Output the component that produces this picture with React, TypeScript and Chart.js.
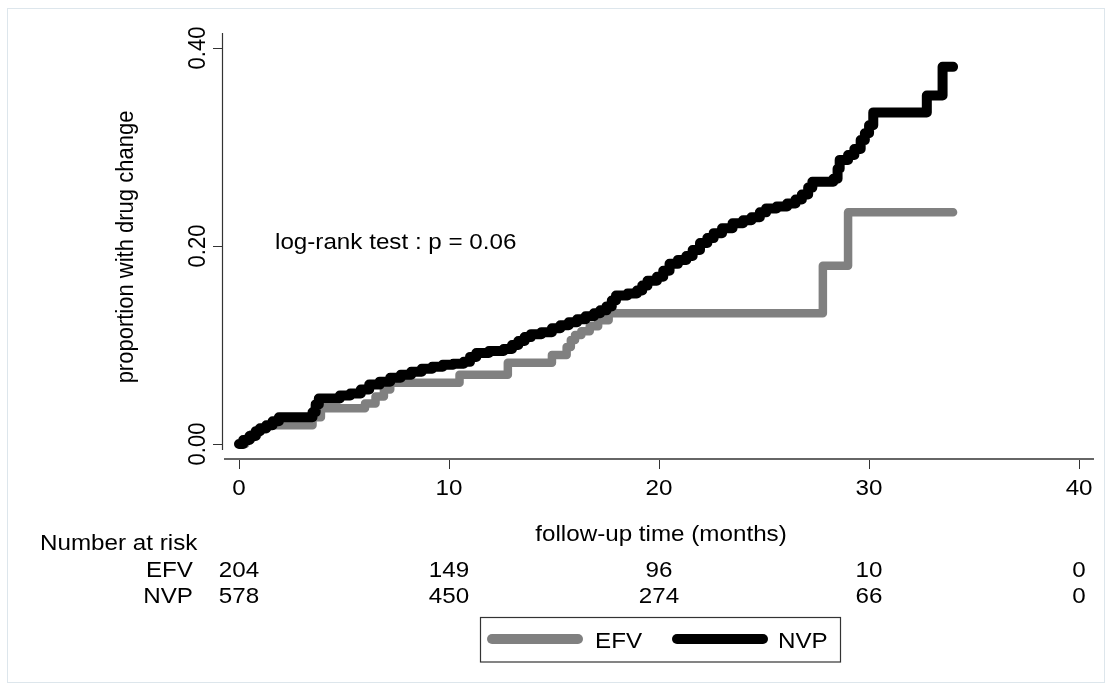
import React, { useEffect, useRef } from "react";
import { Chart, registerables } from "chart.js";

Chart.register(...registerables);

// ---- Data ----
const efvTimes = [0, 0.3, 0.6, 0.9, 1.3, 3.5, 3.9, 6.0, 6.5, 6.9, 7.2, 10.5, 12.8, 14.9, 15.6, 15.8, 16.0, 16.3, 16.7, 17.1, 17.6, 27.8, 29.0, 34.0];
const efvValues = [0, 0.005, 0.01, 0.015, 0.019, 0.027, 0.036, 0.041, 0.048, 0.055, 0.062, 0.07, 0.082, 0.09, 0.098, 0.105, 0.11, 0.114, 0.119, 0.125, 0.132, 0.18, 0.234, 0.234];

const nvpTimes = [0, 0.2, 0.5, 0.8, 1.0, 1.3, 1.6, 1.9, 3.5, 3.65, 3.8, 4.8, 5.3, 5.8, 6.2, 6.7, 7.2, 7.7, 8.2, 8.7, 9.2, 9.7, 10.2, 10.7, 11.0, 11.3, 11.9, 12.6, 13.0, 13.3, 13.6, 13.9, 14.4, 14.9, 15.3, 15.7, 16.1, 16.5, 16.9, 17.2, 17.5, 17.75, 17.95, 18.5, 18.95, 19.2, 19.45, 19.9, 20.2, 20.5, 20.9, 21.3, 21.6, 21.95, 22.3, 22.6, 23.0, 23.5, 24.0, 24.4, 24.8, 25.1, 25.6, 26.1, 26.5, 26.8, 27.1, 27.3, 28.3, 28.5, 28.6, 29.0, 29.3, 29.6, 29.8, 30.0, 30.2, 32.75, 33.5, 34.0];
const nvpValues = [0, 0.004, 0.008, 0.013, 0.016, 0.019, 0.023, 0.027, 0.032, 0.04, 0.046, 0.049, 0.051, 0.055, 0.06, 0.063, 0.067, 0.07, 0.073, 0.076, 0.078, 0.08, 0.081, 0.083, 0.088, 0.092, 0.094, 0.096, 0.1, 0.104, 0.108, 0.111, 0.113, 0.117, 0.12, 0.123, 0.126, 0.129, 0.132, 0.135, 0.139, 0.145, 0.15, 0.152, 0.155, 0.16, 0.165, 0.169, 0.175, 0.182, 0.186, 0.19, 0.196, 0.203, 0.208, 0.213, 0.218, 0.223, 0.226, 0.229, 0.234, 0.238, 0.24, 0.243, 0.247, 0.252, 0.259, 0.265, 0.268, 0.278, 0.287, 0.292, 0.298, 0.307, 0.314, 0.322, 0.335, 0.352, 0.381, 0.381];

const seriesLabels = ["EFV", "NVP"];
const seriesColors = ["#808080", "#000000"];
const seriesWidths = [8.5, 10];

const xTickValues = [0, 10, 20, 30, 40];
const yTickValues = [0, 0.2, 0.4];

const riskTimes = [0, 10, 20, 30, 40];
const efvAtRisk = [204, 149, 96, 10, 0];
const nvpAtRisk = [578, 450, 274, 66, 0];

const yAxisTitle = "proportion with drug change";
const xAxisTitle = "follow-up time (months)";
const riskTitle = "Number at risk";
const annotationText = "log-rank test : p = 0.06";

const FONT = '22px "Liberation Sans", Arial, sans-serif';
const SX = 1.1;

function txt(ctx: CanvasRenderingContext2D, s: string, x: number, y: number, align: CanvasTextAlign, rotate = false) {
  ctx.save();
  ctx.translate(x, y);
  ctx.scale(SX, 1);
  if (rotate) ctx.rotate(-Math.PI / 2);
  ctx.font = FONT;
  ctx.fillStyle = "#000";
  ctx.textAlign = align;
  ctx.textBaseline = "alphabetic";
  ctx.fillText(s, 0, 0);
  ctx.restore();
}

const decorPlugin = {
  id: "decor",
  beforeDatasetsDraw(chart: any) {
    const ctx: CanvasRenderingContext2D = chart.ctx;
    const a = chart.chartArea;
    ctx.save();
    // outer frame
    ctx.strokeStyle = "#dde6ec";
    ctx.lineWidth = 1;
    ctx.strokeRect(7.5, 8.5, 1097, 674);
    // y axis line
    ctx.strokeStyle = "#333";
    ctx.lineWidth = 1.2;
    ctx.beginPath();
    ctx.moveTo(a.left - 0.5, a.top);
    ctx.lineTo(a.left - 0.5, a.bottom - 9);
    ctx.stroke();
    // x axis line
    ctx.strokeStyle = "#666";
    ctx.lineWidth = 2;
    ctx.beginPath();
    ctx.moveTo(a.left + 1, a.bottom);
    ctx.lineTo(a.right, a.bottom);
    ctx.stroke();
    ctx.restore();
  },
  afterDraw(chart: any) {
    const ctx: CanvasRenderingContext2D = chart.ctx;
    const xs = chart.scales.x;
    const ys = chart.scales.y;
    // y tick labels (rotated)
    yTickValues.forEach((v) => txt(ctx, v.toFixed(2), 205, ys.getPixelForValue(v), "center", true));
    // y title
    txt(ctx, yAxisTitle, 133, 247, "center", true);
    // x tick labels
    xTickValues.forEach((v) => txt(ctx, String(v), xs.getPixelForValue(v), 495, "center"));
    // x title
    txt(ctx, xAxisTitle, 661, 541, "center");
    // annotation
    txt(ctx, annotationText, 275, 249, "left");
    // risk table
    txt(ctx, riskTitle, 40, 550, "left");
    txt(ctx, seriesLabels[0], 193, 577, "right");
    txt(ctx, seriesLabels[1], 193, 603, "right");
    riskTimes.forEach((t, i) => {
      const px = xs.getPixelForValue(t);
      txt(ctx, String(efvAtRisk[i]), px, 577, "center");
      txt(ctx, String(nvpAtRisk[i]), px, 603, "center");
    });
    // legend
    ctx.save();
    ctx.strokeStyle = "#333";
    ctx.lineWidth = 1.2;
    ctx.strokeRect(480.5, 617.5, 360, 44.5);
    const items = [
      { x0: 492, x1: 578, tx: 595 },
      { x0: 677, x1: 763, tx: 778 },
    ];
    items.forEach((it, i) => {
      ctx.strokeStyle = seriesColors[i];
      ctx.lineWidth = 10;
      ctx.lineCap = "round";
      ctx.beginPath();
      ctx.moveTo(it.x0, 639);
      ctx.lineTo(it.x1, 639);
      ctx.stroke();
      txt(ctx, seriesLabels[i], it.tx, 648, "left");
    });
    ctx.restore();
  },
};

export default function App() {
  const ref = useRef<HTMLCanvasElement | null>(null);
  useEffect(() => {
    document.body.style.margin = "0";
    const canvas = ref.current!;
    const mk = (times: number[], vals: number[]) => times.map((t, i) => ({ x: t, y: vals[i] }));
    const chart = new Chart(canvas, {
      type: "line",
      data: {
        datasets: [
          {
            label: seriesLabels[0],
            data: mk(efvTimes, efvValues),
            borderColor: seriesColors[0],
            borderWidth: seriesWidths[0],
            stepped: "before",
            pointRadius: 0,
            borderJoinStyle: "round",
            borderCapStyle: "round",
            fill: false,
            order: 1,
          },
          {
            label: seriesLabels[1],
            data: mk(nvpTimes, nvpValues),
            borderColor: seriesColors[1],
            borderWidth: seriesWidths[1],
            stepped: "before",
            pointRadius: 0,
            borderJoinStyle: "round",
            borderCapStyle: "round",
            fill: false,
            order: 0,
          },
        ] as any,
      },
      options: {
        responsive: false,
        animation: false,
        events: [],
        layout: { padding: { left: 213, right: 18, top: 33, bottom: 221 } },
        plugins: { legend: { display: false }, tooltip: { enabled: false } },
        elements: { line: { tension: 0 } },
        datasets: { line: { clip: false } as any },
        scales: {
          x: {
            type: "linear",
            min: -0.762,
            max: 40.71,
            afterBuildTicks: (s: any) => {
              s.ticks = xTickValues.map((v) => ({ value: v }));
            },
            ticks: { display: false },
            grid: { display: true, drawOnChartArea: false, drawTicks: true, tickLength: 10, color: "#333", lineWidth: 1 },
            border: { display: false },
          },
          y: {
            type: "linear",
            min: -0.01515,
            max: 0.4152,
            afterBuildTicks: (s: any) => {
              s.ticks = yTickValues.map((v) => ({ value: v }));
            },
            ticks: { display: false },
            grid: { display: true, drawOnChartArea: false, drawTicks: true, tickLength: 10, color: "#333", lineWidth: 1 },
            border: { display: false },
          },
        },
      },
      plugins: [decorPlugin],
    });
    return () => chart.destroy();
  }, []);
  return (
    <div style={{ width: 1112, height: 690, background: "#fff" }}>
      <canvas ref={ref} width={1112} height={690} style={{ display: "block" }} />
    </div>
  );
}
